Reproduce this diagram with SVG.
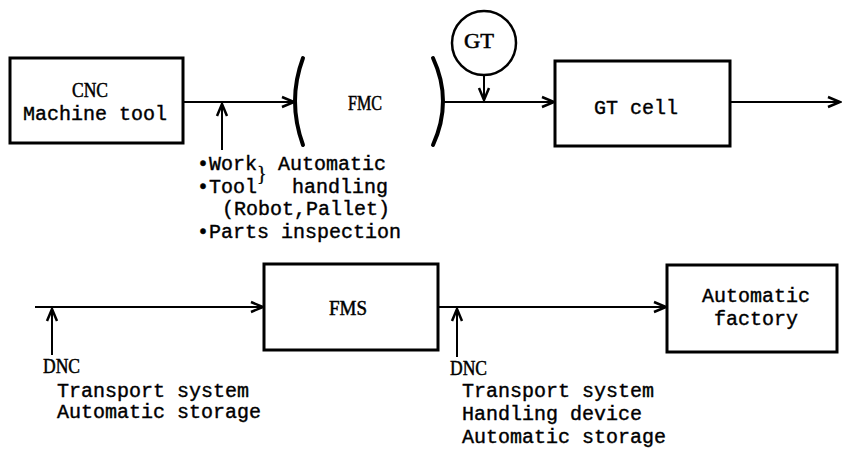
<svg xmlns="http://www.w3.org/2000/svg" width="842" height="453" viewBox="0 0 842 453">
<style>
.box{fill:#fff;stroke:#000;stroke-width:3}
.arc{fill:none;stroke:#000;stroke-width:4;stroke-linecap:round}
.ln{fill:none;stroke:#000;stroke-width:2}
.mono{font-family:"Liberation Mono","Courier New",monospace;font-size:20px;fill:#000;stroke:#000;stroke-width:0.4}
.ser{font-family:"Liberation Serif","Times New Roman",serif;font-size:20px;fill:#000;stroke:#000;stroke-width:0.5}
.mid{text-anchor:middle}
</style>
<defs>
<marker id="ah" markerUnits="userSpaceOnUse" markerWidth="16" markerHeight="14" refX="13" refY="6" orient="auto" overflow="visible">
<path d="M1,1 L13,6 L1,11" fill="none" stroke="#000" stroke-width="2.5" stroke-linejoin="miter"/>
</marker>
</defs>
<rect width="842" height="453" fill="#fff"/>
<g id="connectors">
<line class="ln" x1="183" y1="102" x2="294" y2="102" marker-end="url(#ah)"/>
<line class="ln" x1="222" y1="150" x2="222" y2="104" marker-end="url(#ah)"/>
<line class="ln" x1="443" y1="102" x2="554" y2="102" marker-end="url(#ah)"/>
<line class="ln" x1="484" y1="75" x2="484" y2="100" marker-end="url(#ah)"/>
<line class="ln" x1="730" y1="102" x2="840" y2="102" marker-end="url(#ah)"/>
<line class="ln" x1="35" y1="307" x2="263" y2="307" marker-end="url(#ah)"/>
<line class="ln" x1="52" y1="355" x2="52" y2="309" marker-end="url(#ah)"/>
<line class="ln" x1="438" y1="307" x2="666" y2="307" marker-end="url(#ah)"/>
<line class="ln" x1="457" y1="357" x2="457" y2="309" marker-end="url(#ah)"/>
</g>
<g id="cnc">
<rect class="box" x="10" y="58" width="173" height="85"/>
<text class="ser" x="72" y="97" textLength="36" lengthAdjust="spacingAndGlyphs">CNC</text>
<text class="mono mid" x="95" y="120">Machine tool</text>
</g>
<g id="fmc">
<path class="arc" d="M303,58 Q287,101 303,145"/>
<path class="arc" d="M433,58 Q453,101 433,145"/>
<text class="ser" x="348" y="110" textLength="34" lengthAdjust="spacingAndGlyphs">FMC</text>
</g>
<g id="gt">
<circle cx="484" cy="43" r="32" fill="#fff" stroke="#000" stroke-width="2.5"/>
<text class="ser" x="464" y="48" textLength="30" lengthAdjust="spacingAndGlyphs">GT</text>
</g>
<g id="gtcell">
<rect class="box" x="555" y="61" width="175" height="85"/>
<text class="mono mid" x="636" y="114">GT cell</text>
</g>
<g id="fmc-notes">
<text class="mono" x="197" y="170">•Work</text>
<text class="ser" x="257" y="180" style="font-size:20px;stroke-width:0.3">}</text>
<text class="mono" x="278" y="170">Automatic</text>
<text class="mono" x="197" y="193">•Tool</text>
<text class="mono" x="292" y="193">handling</text>
<text class="mono" x="222" y="215">(Robot,Pallet)</text>
<text class="mono" x="197" y="238">•Parts inspection</text>
</g>
<g id="fms">
<rect class="box" x="264" y="264" width="174" height="86"/>
<text class="ser" x="329" y="315" textLength="38" lengthAdjust="spacingAndGlyphs">FMS</text>
</g>
<g id="factory">
<rect class="box" x="667" y="265" width="170" height="87"/>
<text class="mono mid" x="756" y="302">Automatic</text>
<text class="mono mid" x="756" y="325">factory</text>
</g>
<g id="dnc-left">
<text class="ser" x="43" y="373" textLength="37" lengthAdjust="spacingAndGlyphs">DNC</text>
<text class="mono" x="57" y="397">Transport system</text>
<text class="mono" x="57" y="418">Automatic storage</text>
</g>
<g id="dnc-right">
<text class="ser" x="450" y="375" textLength="37" lengthAdjust="spacingAndGlyphs">DNC</text>
<text class="mono" x="462" y="397">Transport system</text>
<text class="mono" x="462" y="420">Handling device</text>
<text class="mono" x="462" y="443">Automatic storage</text>
</g>
</svg>
